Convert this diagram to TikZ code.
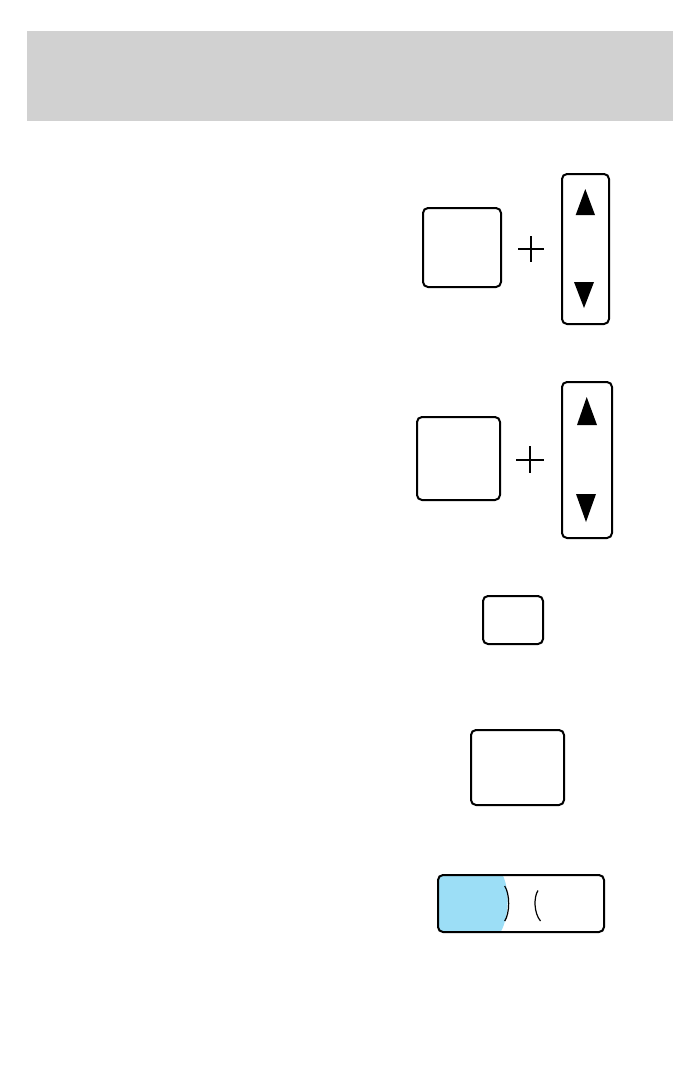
\documentclass[tikz,border=0pt]{standalone}
\usepackage{tikz}

\definecolor{panelgray}{RGB}{209,209,209}
\definecolor{lampblue}{RGB}{156,222,246}

\begin{document}
\begin{tikzpicture}[x=0.5pt, y=-0.5pt, every node/.style={inner sep=0pt, outer sep=0pt},
		key/.style={draw, line width=1pt, rounded corners=2.5pt},
		plus/.style={line width=0.8pt},
		arrowmark/.style={fill=black}]
		\useasboundingbox (0,0) rectangle (692,1088);

		% Header bar
		\fill[panelgray] (27,31) rectangle (673,121);

		% First key pair
		\node[key, minimum width=39pt, minimum height=39.5pt] (keyA) at (462,247.5) {};
		\node[key, minimum width=23.5pt, minimum height=75pt] (rockA) at (585.5,249) {};
		\coordinate (plusA) at (531,249);
		\draw[plus] (plusA) ++(-13,0) -- ++(26,0) (plusA) ++(0,-13) -- ++(0,26);
		\fill[arrowmark] (585.3,189) -- (595,215) -- (575.7,215) -- cycle;
		\fill[arrowmark] (574,282) -- (594,282) -- (584,308) -- cycle;

		% Second key pair
		\node[key, minimum width=41.5pt, minimum height=41.5pt] (keyB) at (458.5,458.5) {};
		\node[key, minimum width=25pt, minimum height=78pt] (rockB) at (587,460) {};
		\coordinate (plusB) at (530,460);
		\draw[plus] (plusB) ++(-14,0) -- ++(28,0) (plusB) ++(0,-14) -- ++(0,27);
		\fill[arrowmark] (586.7,397) -- (597,425) -- (577,425) -- cycle;
		\fill[arrowmark] (576,494) -- (596,494) -- (586,522) -- cycle;

		% Single keys
		\node[key, minimum width=30pt, minimum height=24pt] (keyC) at (513,620) {};
		\node[key, minimum width=46.5pt, minimum height=37.5pt] (keyD) at (517.5,767.5) {};

		% Lamp switch
		\begin{scope}
			\clip[rounded corners=2.5pt] (438,875) rectangle (604,932);
			\fill[lampblue] (430,875) -- (502.7,875) .. controls (509.5,889) and (509.5,916) .. (500.7,932) -- (430,932) -- cycle;
		\end{scope}
		\node[key, minimum width=83pt, minimum height=28.5pt] (lamp) at (521,903.5) {};
		\draw[line width=0.6pt] (504.7,886) .. controls (510,894) and (510,913) .. (504.7,921);
		\draw[line width=0.6pt] (538,890.5) .. controls (533.6,897) and (533.8,913) .. (540.5,921);
	\end{tikzpicture}
\end{document}
